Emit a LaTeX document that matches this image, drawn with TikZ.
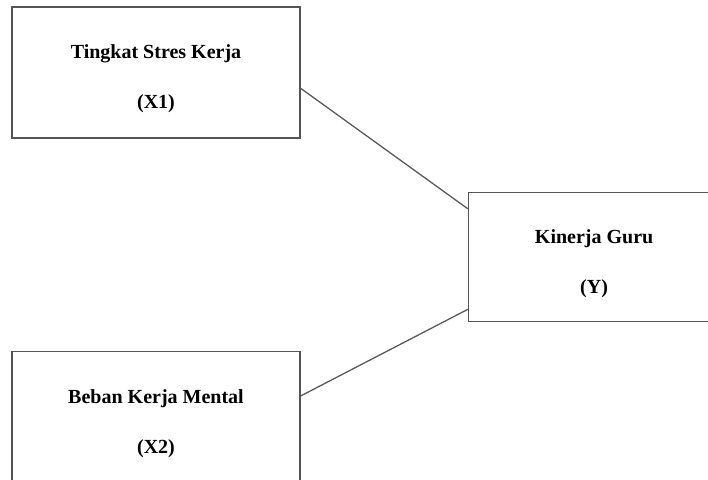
\documentclass[tikz,border=0pt]{standalone}
\usepackage{fontspec}
\setmainfont{Liberation Serif}
\usetikzlibrary{calc,positioning}
\definecolor{boxgray}{HTML}{555555}
\definecolor{linegray}{HTML}{5A5A5A}
\newcommand{\turun}{\rule{0pt}{27pt}}

\begin{document}
\begin{tikzpicture}[
  x=1pt, y=1pt,
  variabel/.style={rectangle, draw=boxgray, line width=1.6pt, fill=white,
    font=\fontsize{20}{24}\selectfont\bfseries, minimum width=288pt, minimum height=131pt,
    align=center, inner sep=0pt},
  hub/.style={draw=linegray, line width=1.3pt}
]
  \useasboundingbox (0,0) rectangle (708,-479);
  \clip (0,0) rectangle (708,-479);
  \fill[white] (0,0) rectangle (708,-479);

  % variabel bebas di kiri
  \node[variabel] (x1) at (156,-72.5) {\turun Tingkat Stres Kerja\\[26pt](X1)};
  \node[variabel, below=212pt of x1] (x2) {\turun Beban Kerja Mental\\[26pt](X2)};

  % variabel terikat di kanan
  \node[variabel, minimum width=251pt, minimum height=129pt, below right=53pt and 167pt of x1] (y) {\turun Kinerja Guru\\[26pt](Y)};

  % garis penghubung
  \draw[hub] ($(x1.north east)!0.62!(x1.south east)$) -- ($(y.north west)!0.13!(y.south west)$);
  \draw[hub] ($(x2.north east)!0.34!(x2.south east)$) -- ($(y.north west)!0.9!(y.south west)$);
\end{tikzpicture}
\end{document}
